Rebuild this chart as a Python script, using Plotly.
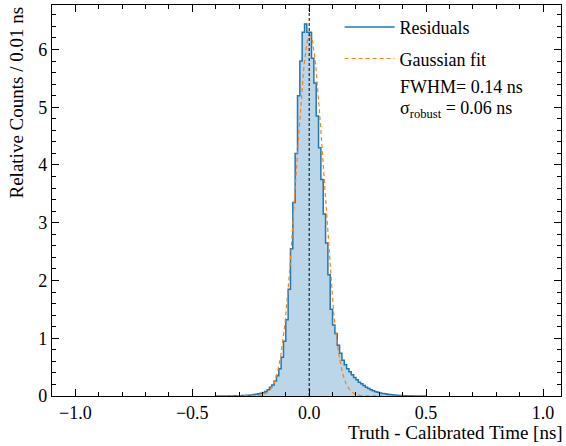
import numpy as np
import plotly.graph_objects as go

# ---------------- data ----------------
bin_width = 0.01
first_edge = -0.40
counts = [
    0.0, 0.0, 0.001, 0.001, 0.002,
    0.002, 0.003, 0.003, 0.004, 0.005,
    0.006, 0.008, 0.010, 0.012, 0.015,
    0.019, 0.024, 0.030, 0.038, 0.048,
    0.060, 0.080, 0.110, 0.150, 0.190,
    0.260, 0.350, 0.470, 0.670, 0.950,
    1.320, 1.850, 2.550, 3.350, 4.200,
    5.200, 5.800, 6.300, 6.440, 6.300,
    6.300, 5.850, 5.420, 4.850, 4.300,
    3.750, 3.150, 2.650, 2.100, 1.500,
    1.230, 1.080, 0.880, 0.740, 0.620,
    0.540, 0.470, 0.420, 0.370, 0.320,
    0.280, 0.240, 0.210, 0.180, 0.150,
    0.130, 0.110, 0.090, 0.075, 0.063,
    0.053, 0.044, 0.037, 0.030, 0.025,
    0.020, 0.016, 0.013, 0.010, 0.008,
    0.006, 0.005, 0.004, 0.003, 0.002,
    0.002, 0.001, 0.001, 0.0, 0.0,
]
fit_amplitude = 6.25
fit_mean = 0.003
fwhm = 0.14
sigma_robust = 0.06
x_range = [-1.1, 1.077]
y_range = [0, 6.77]
x_tickvals = [-1.0, -0.5, 0.0, 0.5, 1.0]
y_tickvals = [0, 1, 2, 3, 4, 5, 6]

# ---------------- derived ----------------
edges = first_edge + bin_width * np.arange(len(counts) + 1)
step_x = list(edges)
step_y = list(counts) + [counts[-1]]

fit_sigma = fwhm / (2 * np.sqrt(2 * np.log(2)))
fx = np.linspace(-0.4, 0.5, 451)
fy = fit_amplitude * np.exp(-0.5 * ((fx - fit_mean) / fit_sigma) ** 2)

BLUE = "#1f77b4"
ORANGE = "#ff7f0e"
FONT = "Liberation Serif"

fig = go.Figure()
fig.add_trace(go.Scatter(
    x=step_x, y=step_y, mode="lines", line=dict(shape="hv", width=0),
    fill="tozeroy", fillcolor="rgba(31,119,180,0.3)", showlegend=False,
    hoverinfo="skip",
))
fig.add_trace(go.Scatter(
    x=step_x, y=step_y, mode="lines", line=dict(shape="hv", color=BLUE, width=1.5),
    name="Residuals", legendgroup="a",
))
fig.add_trace(go.Scatter(
    x=fx, y=fy, mode="lines", line=dict(color=ORANGE, width=1.2, dash="4px,3px"),
    name="Gaussian fit", legendgroup="b",
))

fig.add_shape(type="line", xref="x", yref="paper", x0=0, x1=0, y0=0, y1=1,
              line=dict(color="black", width=1, dash="3px,2px"))

axis_common = dict(
    showline=True, linecolor="black", linewidth=1.2, mirror="allticks",
    ticks="inside", ticklen=7, tickwidth=1, tickcolor="black",
    showgrid=False, zeroline=False,
    tickfont=dict(family=FONT, size=18, color="black"),
)

fig.update_xaxes(range=x_range, tickvals=x_tickvals, tickformat=".1f",
                 minor=dict(ticks="inside", dtick=0.1, tick0=0, ticklen=4, tickcolor="black"),
                 **axis_common)
fig.update_yaxes(range=y_range, tickvals=y_tickvals,
                 minor=dict(ticks="inside", dtick=0.2, tick0=0, ticklen=4, tickcolor="black"),
                 **axis_common)

fig.add_annotation(text="Truth - Calibrated Time [ns]", xref="paper", yref="paper",
                   x=1, y=0, xanchor="right", yanchor="top", yshift=-24, xshift=4,
                   showarrow=False, font=dict(family=FONT, size=19, color="black"))
fig.add_annotation(text="Relative Counts / 0.01 ns", xref="paper", yref="paper",
                   x=0, y=1, xanchor="right", yanchor="top", xshift=-24, textangle=-90,
                   showarrow=False, font=dict(family=FONT, size=19, color="black"))
fig.add_annotation(text=f"FWHM= {fwhm:.2f} ns", xref="paper", yref="paper",
                   x=0.68, y=0.79, xanchor="left", yanchor="middle", showarrow=False,
                   font=dict(family=FONT, size=18, color="black"))
fig.add_annotation(text=f"σ<sub>robust</sub> = {sigma_robust:.2f} ns", xref="paper", yref="paper",
                   x=0.68, y=0.733, xanchor="left", yanchor="middle", showarrow=False,
                   font=dict(family=FONT, size=18, color="black"))

fig.update_layout(
    width=566, height=446,
    margin=dict(l=52, r=5, t=5, b=50),
    paper_bgcolor="white", plot_bgcolor="white",
    showlegend=True,
    legend=dict(x=0.565, y=0.99, xanchor="left", yanchor="top", itemwidth=50,
                bgcolor="rgba(0,0,0,0)", font=dict(family=FONT, size=18, color="black"),
                tracegroupgap=5),
    font=dict(family=FONT, size=18, color="black"),
)

fig.write_html("out.html", config={"displayModeBar": False},
               post_script="document.body.style.margin='0';")
